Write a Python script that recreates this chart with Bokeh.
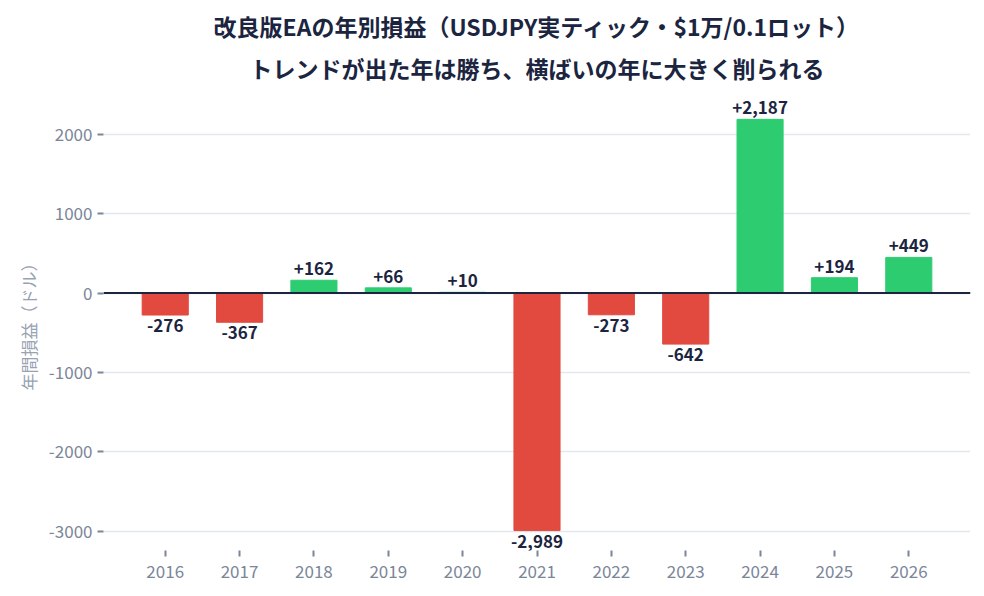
from bokeh.plotting import figure
from bokeh.models import ColumnDataSource, Title, FixedTicker, Span, PrintfTickFormatter
from bokeh.embed import file_html
from bokeh.resources import INLINE
from bokeh.core.properties import value

years = [2016, 2017, 2018, 2019, 2020, 2021, 2022, 2023, 2024, 2025, 2026]
pnl = [-276, -367, 162, 66, 10, -2989, -273, -642, 2187, 194, 449]
title1 = "改良版EAの年別損益（USDJPY実ティック・$1万/0.1ロット）"
title2 = "トレンドが出た年は勝ち、横ばいの年に大きく削られる"
ylabel = "年間損益（ドル）"
y_ticks = [-3000, -2000, -1000, 0, 1000, 2000]

RED = "#e24a3f"
GREEN = "#2ecc71"
NAVY = "#1b2540"
GRAY = "#7b8699"
FONT = "Noto Sans CJK JP"

colors = [GREEN if v >= 0 else RED for v in pnl]
labels = [("+" if v >= 0 else "-") + f"{abs(v):,}" for v in pnl]

pos = ColumnDataSource(dict(x=[y for y, v in zip(years, pnl) if v >= 0],
                            y=[v for v in pnl if v >= 0],
                            t=[l for l, v in zip(labels, pnl) if v >= 0]))
neg = ColumnDataSource(dict(x=[y for y, v in zip(years, pnl) if v < 0],
                            y=[v for v in pnl if v < 0],
                            t=[l for l, v in zip(labels, pnl) if v < 0]))
bars = ColumnDataSource(dict(x=years, top=pnl, color=colors))

p = figure(width=984, height=596, x_range=(2015.17, 2026.83), y_range=(-3240, 2500),
           output_backend="svg", toolbar_location=None,
           min_border_left=103, min_border_right=14, min_border_bottom=46)

p.add_layout(Title(text=title2, text_font=FONT, text_font_size="23px", text_font_style="bold",
                   text_color=NAVY, align="center", standoff=19), "above")
p.add_layout(Title(text=title1, text_font=FONT, text_font_size="23px", text_font_style="bold",
                   text_color=NAVY, align="center", standoff=-6), "above")
p.add_layout(Title(text=" ", text_font=FONT, text_font_size="5px", standoff=0), "above")

p.vbar(x="x", top="top", bottom=0, width=0.62, color="color", source=bars)
p.add_layout(Span(location=0, dimension="width", line_color=NAVY, line_width=2))

p.text(x="x", y="y", text="t", source=pos, text_align="center", text_baseline="bottom",
       y_offset=-5, text_font=value(FONT), text_font_size="17px", text_font_style="bold",
       text_color=NAVY)
p.text(x="x", y="y", text="t", source=neg, text_align="center", text_baseline="top",
       y_offset=4, text_font=value(FONT), text_font_size="17px", text_font_style="bold",
       text_color=NAVY)

p.outline_line_color = None
p.xgrid.grid_line_color = None
p.ygrid.grid_line_color = "#e3e7ee"
p.ygrid.grid_line_width = 1.5
p.yaxis.ticker = FixedTicker(ticks=y_ticks)
p.xaxis.ticker = FixedTicker(ticks=years)
p.yaxis.formatter = PrintfTickFormatter(format="%d")
for ax in (p.xaxis[0], p.yaxis[0]):
    ax.axis_line_color = None
    ax.major_tick_line_color = GRAY
    ax.major_tick_line_width = 2
    ax.minor_tick_line_color = None
    ax.major_tick_in = 0
    ax.major_tick_out = 6
    ax.major_label_text_color = GRAY
    ax.major_label_text_font = FONT
    ax.major_label_text_font_size = "17px"
p.yaxis.axis_label = ylabel
p.yaxis.axis_label_text_font = FONT
p.yaxis.axis_label_text_font_size = "17px"
p.yaxis.axis_label_text_font_style = "normal"
p.yaxis.axis_label_text_color = "#98a2b3"
p.xaxis.major_label_standoff = 8

open("out.html", "w").write(file_html(p, INLINE))
